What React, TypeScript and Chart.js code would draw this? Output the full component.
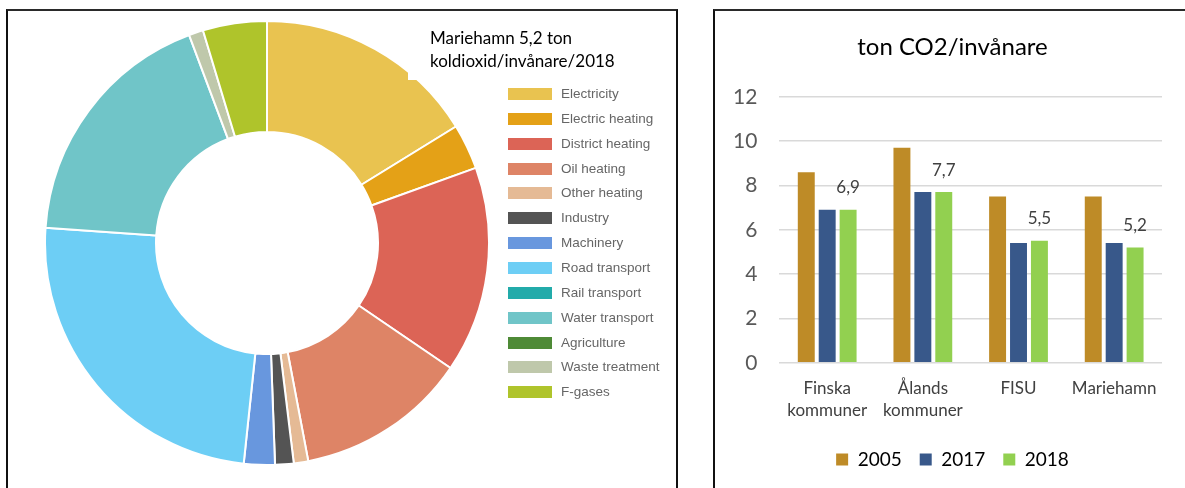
import React, { useEffect, useRef } from 'react';
import { Chart, registerables } from 'chart.js';

Chart.register(...registerables);

// ---- Doughnut data (Mariehamn 2018, share of CO2 per sector, %) ----
const sectorLabels = [
  'Electricity',
  'Electric heating',
  'District heating',
  'Oil heating',
  'Other heating',
  'Industry',
  'Machinery',
  'Road transport',
  'Rail transport',
  'Water transport',
  'Agriculture',
  'Waste treatment',
  'F-gases',
];
const sectorShares = [16.2, 3.3, 15.0, 12.5, 1.05, 1.35, 2.25, 24.4, 0, 18.2, 0, 1.05, 4.65];
const sectorColors = [
  '#E9C350',
  '#E4A117',
  '#DC6456',
  '#DE8466',
  '#E5BA95',
  '#545454',
  '#6897DE',
  '#6DCEF5',
  '#22ABAA',
  '#70C5C8',
  '#4E8A36',
  '#BFC8AB',
  '#AFC42B',
];
const doughnutTitle = ['Mariehamn 5,2 ton', 'koldioxid/invånare/2018'];

// ---- Bar data (ton CO2 per inhabitant) ----
const regionLabels = [['Finska', 'kommuner'], ['Ålands', 'kommuner'], 'FISU', 'Mariehamn'];
const yearLabels = ['2005', '2017', '2018'];
const values2005 = [8.6, 9.7, 7.5, 7.5];
const values2017 = [6.9, 7.7, 5.4, 5.4];
const values2018 = [6.9, 7.7, 5.5, 5.2];
const yearColors = ['#BE8B27', '#38588A', '#92D050'];
const yTicks = [0, 2, 4, 6, 8, 10, 12];
const barTitle = 'ton CO2/invånare';

const fmt = (v: number) => v.toFixed(1).replace('.', ',');

const valueLabelPlugin = {
  id: 'valueLabels',
  afterDatasetsDraw(chart: any) {
    const meta = chart.getDatasetMeta(2);
    const ctx = chart.ctx;
    ctx.save();
    ctx.font = '17px Lato';
    ctx.fillStyle = '#404040';
    ctx.textAlign = 'center';
    ctx.textBaseline = 'middle';
    meta.data.forEach((bar: any, i: number) => {
      ctx.fillText(fmt(values2018[i]), bar.x, bar.y - 22);
    });
    ctx.restore();
  },
};

export default function App() {
  const dRef = useRef<HTMLCanvasElement>(null);
  const bRef = useRef<HTMLCanvasElement>(null);

  useEffect(() => {
    const d = new Chart(dRef.current!, {
      type: 'doughnut',
      data: {
        labels: sectorLabels,
        datasets: [
          {
            data: sectorShares,
            backgroundColor: sectorColors,
            borderColor: '#ffffff',
            borderWidth: 2,
          },
        ],
      },
      options: {
        responsive: false,
        animation: false,
        cutout: '50%',
        layout: { padding: 0 },
        plugins: {
          legend: { display: false },
          tooltip: { enabled: false },
        },
      },
    });

    const b = new Chart(bRef.current!, {
      type: 'bar',
      data: {
        labels: regionLabels as any,
        datasets: [values2005, values2017, values2018].map((vals, i) => ({
          label: yearLabels[i],
          data: vals,
          backgroundColor: yearColors[i],
          categoryPercentage: 0.656,
          barPercentage: 0.81,
          yAxisID: 'y',
        })),
      },
      options: {
        responsive: false,
        animation: false,
        layout: { padding: { left: 0, right: 0, top: 0, bottom: 9 } },
        plugins: {
          title: {
            display: true,
            text: barTitle,
            color: '#000000',
            font: { family: 'Lato', size: 24, weight: 'normal' },
            padding: { top: 22, bottom: 35 },
          },
          legend: {
            position: 'bottom',
            labels: {
              boxWidth: 12,
              boxHeight: 12,
              color: '#000000',
              font: { family: 'Lato', size: 19 },
              padding: 18,
            },
          },
          tooltip: { enabled: false },
        },
        scales: {
          x: {
            grid: { display: false, drawTicks: false },
            border: { display: false },
            ticks: {
              color: '#404040',
              font: { family: 'Lato', size: 17, lineHeight: 1.33 },
              padding: 14,
              maxRotation: 0,
              autoSkip: false,
            },
            afterFit: (scale: any) => {
              scale.height -= 4;
            },
          },
          y: {
            min: 0,
            max: 12,
            grid: { color: '#d9d9d9', lineWidth: 1.5, drawTicks: false },
            border: { display: false },
            afterBuildTicks: (scale: any) => {
              scale.ticks = yTicks.map((v) => ({ value: v }));
            },
            ticks: {
              color: '#595959',
              font: { family: 'Lato', size: 21 },
              padding: 22,
            },
          },
          // empty right-hand spacer so that title and legend sit centred like the original
          yRight: {
            type: 'linear',
            position: 'right',
            min: 0,
            max: 12,
            grid: { display: false, drawTicks: false },
            border: { display: false },
            ticks: { display: false },
            afterFit: (scale: any) => {
              scale.width = 32;
            },
          },
        },
      },
      plugins: [valueLabelPlugin],
    });

    return () => {
      d.destroy();
      b.destroy();
    };
  }, []);

  const rowStep = 24.86;

  return (
    <div
      style={{
        position: 'fixed',
        left: 0,
        top: 0,
        width: 1185,
        height: 488,
        background: '#ffffff',
        overflow: 'hidden',
      }}
    >
      {/* left frame */}
      <div
        style={{
          position: 'absolute',
          left: 6,
          top: 9,
          width: 672,
          height: 520,
          boxSizing: 'border-box',
          borderTop: '2px solid #2a2a2a',
          borderLeft: '2px solid #111',
          borderRight: '2px solid #111',
        }}
      />
      <canvas
        ref={dRef}
        width={446}
        height={446}
        style={{ position: 'absolute', left: 44, top: 20, width: 446, height: 446 }}
      />
      {/* title box (white background overlapping the ring) */}
      <div
        style={{
          position: 'absolute',
          left: 408,
          top: 11,
          width: 266,
          height: 69,
          background: '#ffffff',
        }}
      >
        {doughnutTitle.map((t, i) => (
          <div
            key={i}
            style={{
              position: 'absolute',
              left: 22,
              top: 17 + i * 23,
              fontFamily: 'Lato',
              fontSize: 17,
              lineHeight: '20px',
              color: '#000',
              whiteSpace: 'nowrap',
            }}
          >
            {t}
          </div>
        ))}
      </div>
      {/* legend */}
      {sectorLabels.map((lab, i) => (
        <div key={lab}>
          <div
            style={{
              position: 'absolute',
              left: 508,
              top: 94 + i * rowStep - 6,
              width: 44,
              height: 12,
              background: sectorColors[i],
            }}
          />
          <div
            style={{
              position: 'absolute',
              left: 561,
              top: 94 + i * rowStep - 9,
              fontFamily: '"Liberation Sans", Arial, sans-serif',
              fontSize: 13.5,
              lineHeight: '18px',
              color: '#666666',
              whiteSpace: 'nowrap',
            }}
          >
            {lab}
          </div>
        </div>
      ))}

      {/* right frame */}
      <div
        style={{
          position: 'absolute',
          left: 713,
          top: 9,
          width: 600,
          height: 520,
          boxSizing: 'border-box',
          borderTop: '2px solid #2a2a2a',
          borderLeft: '2px solid #111',
        }}
      />
      <canvas
        ref={bRef}
        width={483}
        height={477}
        style={{ position: 'absolute', left: 711, top: 11, width: 483, height: 477 }}
      />
    </div>
  );
}
